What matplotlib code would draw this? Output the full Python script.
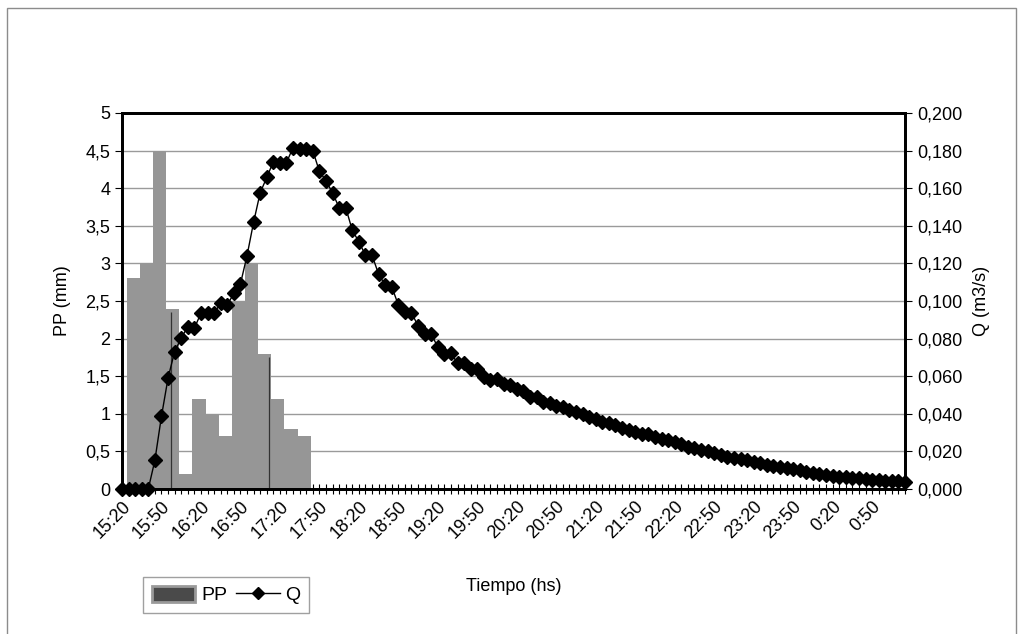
import matplotlib.pyplot as plt
import numpy as np
import matplotlib.patches as mpatches
from matplotlib.lines import Line2D

plt.rcParams['font.family'] = ['Liberation Sans', 'DejaVu Sans']

# time axis: one category every 5 minutes from 15:20 to 1:15
start_min = 15 * 60 + 20
n_points = 120
times = [f"{((start_min + 5 * i) // 60) % 24}:{(start_min + 5 * i) % 60:02d}" for i in range(n_points)]

# caudal Q (m3/s), one value per 5 minutes
q_values = [
    0.0, 0.0, 0.0, 0.0, 0.0, 0.0152, 0.0386, 0.0589, 0.0731, 0.0802,
    0.0864, 0.0855, 0.0935, 0.0935, 0.0935, 0.0988, 0.0979, 0.1040, 0.1090, 0.1240,
    0.1418, 0.1575, 0.1657, 0.1740, 0.1736, 0.1736, 0.1816, 0.1810, 0.1807, 0.1800,
    0.1690, 0.1640, 0.1575, 0.1497, 0.1497, 0.1377, 0.1315, 0.1244, 0.1244, 0.1143,
    0.1085, 0.1076, 0.0979, 0.0943, 0.0938, 0.0867, 0.0825, 0.0825, 0.0754, 0.0719,
    0.0722, 0.0669, 0.0669, 0.0637, 0.0637, 0.0598, 0.0580, 0.0584, 0.0559, 0.0554,
    0.0531, 0.0519, 0.0492, 0.0492, 0.0465, 0.0455, 0.0440, 0.0437, 0.0420, 0.0410,
    0.0398, 0.0385, 0.0372, 0.0355, 0.0350, 0.0338, 0.0325, 0.0315, 0.0305, 0.0295,
    0.0290, 0.0276, 0.0268, 0.0258, 0.0248, 0.0240, 0.0225, 0.0218, 0.0208, 0.0200,
    0.0192, 0.0182, 0.0172, 0.0165, 0.0158, 0.0152, 0.0145, 0.0138, 0.0130, 0.0125,
    0.0118, 0.0114, 0.0104, 0.0100, 0.0090, 0.0085, 0.0080, 0.0076, 0.0070, 0.0066,
    0.0062, 0.0060, 0.0056, 0.0053, 0.0050, 0.0048, 0.0045, 0.0042, 0.0040, 0.0035,
]

# precipitacion PP (mm) every 10 minutes, 15:30 .. 17:40
pp_times = ['15:30', '15:40', '15:50', '16:00', '16:10', '16:20', '16:30',
            '16:40', '16:50', '17:00', '17:10', '17:20', '17:30', '17:40']
pp_values = [2.8, 3.0, 4.5, 2.4, 0.2, 1.2, 1.0, 0.7, 2.5, 3.0, 1.8, 1.2, 0.8, 0.7]

# thin dark lines seen inside two of the bars
mark_times = ['15:57', '17:12']
mark_values = [2.35, 1.75]

def to_idx(t):
    h, m = map(int, t.split(':'))
    mins = h * 60 + m
    if mins < start_min:
        mins += 24 * 60
    return (mins - start_min) / 5.0

fig = plt.figure(figsize=(10.24, 6.34), dpi=100)
ax = fig.add_axes([0.1191, 0.2287, 0.7647, 0.5931])
ax2 = ax.twinx()

# bars (left axis)
pp_x = np.array([to_idx(t) for t in pp_times]) - 0.3
ax.bar(pp_x, pp_values, width=2.0, color='#969696', linewidth=0, zorder=2)
ax.vlines([to_idx(t) for t in mark_times], 0, mark_values, color='#333333', lw=0.9, zorder=3)

ax.set_ylim(0, 5)
ax.set_yticks(np.arange(0, 5.01, 0.5))
ax.set_yticklabels([f"{v:g}".replace('.', ',') for v in np.arange(0, 5.01, 0.5)])
ax.yaxis.grid(True, color='#9a9a9a', lw=1)
ax.set_axisbelow(True)

# line (right axis)
x = np.arange(n_points)
ax2.plot(x, q_values, color='black', lw=1, marker='D', markersize=7,
         clip_on=False, zorder=5)
ax2.set_ylim(0, 0.2)
ax2.set_yticks(np.arange(0, 0.2001, 0.02))
ax2.set_yticklabels([f"{v:.3f}".replace('.', ',') for v in np.arange(0, 0.2001, 0.02)])

ax.set_xlim(0, n_points - 1)
ax.set_xticks(x[::6])
ax.set_xticklabels(times[::6], rotation=45, ha='right', rotation_mode='anchor')
ax.set_xticks(x, minor=True)
ax.tick_params(axis='x', which='both', direction='inout', length=7, width=0.8, labelsize=13, pad=3)
ax.tick_params(axis='y', direction='out', length=5, labelsize=13)
ax2.tick_params(axis='y', direction='out', length=5, labelsize=13)

for a in (ax, ax2):
    for s in a.spines.values():
        s.set_linewidth(2)
        s.set_color('black')

ax.set_ylabel('PP (mm)', fontsize=13, labelpad=10)
ax2.set_ylabel('Q (m3/s)', fontsize=13, labelpad=8)
ax.set_xlabel('Tiempo (hs)', fontsize=13, labelpad=26)

# legend
h_pp = mpatches.Patch(facecolor='#4a4a4a', edgecolor='#9a9a9a', lw=2)
h_q = Line2D([], [], color='black', lw=1, marker='D', markersize=6)
fig.legend([h_pp, h_q], ['PP', 'Q'], loc='lower left', bbox_to_anchor=(0.1396, 0.033),
           ncol=2, frameon=True, fancybox=False, edgecolor='#888888', fontsize=14,
           handlelength=2.25, handleheight=0.9, handletextpad=0.3, columnspacing=0.45,
           borderpad=0.45, borderaxespad=0)

# chart area border
fig.patches.append(mpatches.Rectangle((7 / 1024, -0.01), 1009 / 1024, 1 - 8 / 634 + 0.01,
                                      transform=fig.transFigure, fill=False,
                                      edgecolor='#8c8c8c', lw=1))

fig.savefig('out.png', dpi=100)
